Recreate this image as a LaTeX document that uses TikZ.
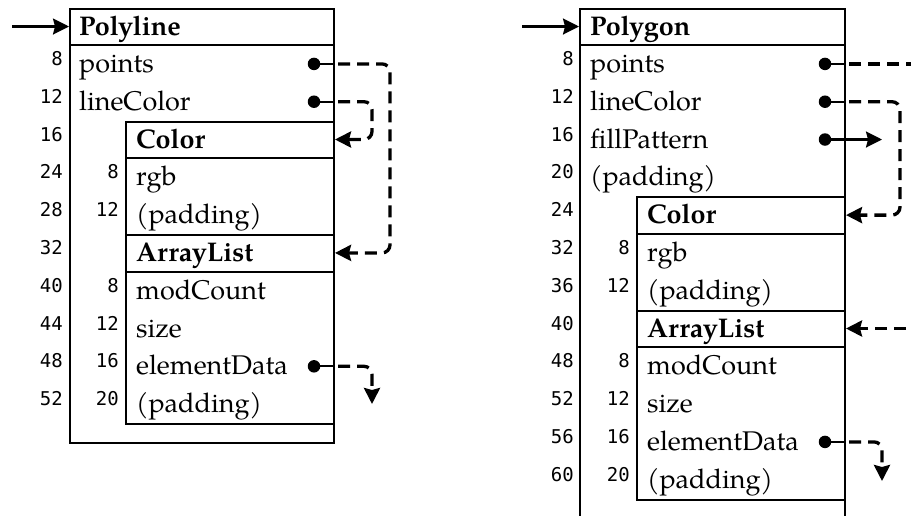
\documentclass[tikz,border=0pt]{standalone}
\usepackage{fontspec}
\setmainfont{TeX Gyre Pagella}
\newfontfamily\offsetfont{DejaVu Sans Mono}
\usetikzlibrary{arrows.meta}

\tikzset{
  frame/.style={draw, line width=2pt, inner sep=0pt, anchor=north west},
  rule/.style={line width=2pt},
  fieldtext/.style={anchor=base west, inner sep=0pt, font=\fontsize{27}{30}\selectfont},
  headtext/.style={anchor=base west, inner sep=0pt, font=\fontsize{27}{30}\selectfont\bfseries},
  offset/.style={anchor=base east, inner sep=0pt, font=\fontsize{19}{22}\offsetfont},
  refdot/.style={circle, fill, inner sep=0pt, minimum size=12.5pt},
  stub/.style={line width=2.2pt},
  ref/.style={line width=3.3pt, dash pattern=on 12pt off 7pt, rounded corners=8pt, shorten <=3pt},
  tip/.style={-{Stealth[length=16pt,width=16pt,inset=2pt]}},
}

\begin{document}
\begin{tikzpicture}[x=1pt,y=-1pt]
\path[use as bounding box] (0,0) rectangle (911,515);
\clip (0,0) rectangle (911,515);

% ---------------- Polyline ----------------
\node[frame, minimum width=264pt, minimum height=434pt] (lbox) at (69,8) {};
\draw[rule] (69,45) -- (333,45);
\node[frame, minimum width=208pt, minimum height=113.4pt] (lcol) at (125,120.6) {};
\draw[rule] (125,158.4) -- (333,158.4);
\node[frame, minimum width=208pt, minimum height=189pt] (larr) at (125,234) {};
\draw[rule] (125,271.8) -- (333,271.8);

\coordinate (Lh) at (0,26.5);
\foreach \k in {0,...,9} \coordinate (L\k) at (0,{45+(\k+0.5)*37.8});

\node[headtext] (lhd) at (79,35.5) {Polyline};
\foreach \k/\txt in {0/points,1/lineColor}
  \node[fieldtext] (lf\k) at (79,{45+\k*37.8+27.5}) {\txt};
\foreach \k/\txt in {3/rgb,4/(padding),6/modCount,7/size,8/elementData,9/(padding)}
  \node[fieldtext] (lf\k) at (136,{45+\k*37.8+27.5}) {\txt};
\foreach \k/\txt in {2/Color,5/ArrayList}
  \node[headtext] (lf\k) at (136,{45+\k*37.8+27.5}) {\txt};

\foreach \k/\n in {0/8,1/12,2/16,3/24,4/28,5/32,6/40,7/44,8/48,9/52}
  \node[offset] (lo\k) at (63,{45+\k*37.8+20.5}) {\n};
\foreach \k/\n in {3/8,4/12,6/8,7/12,8/16,9/20}
  \node[offset] (li\k) at (119,{45+\k*37.8+20.5}) {\n};

% references of Polyline
\coordinate (lin) at (12,0);
\draw[stub, tip] (lin |- Lh) -- (lbox.west |- Lh);

\node[refdot] (lpd) at (314,0 |- L0) {};
\node[refdot] (lcd) at (314,0 |- L1) {};
\node[refdot] (led) at (314,0 |- L8) {};
\coordinate (lpx) at (390,0);
\coordinate (lcx) at (372,0);
\coordinate (lex) at (372,404);

\draw[stub] (lpd.center) -- (lbox.east |- L0);
\draw[ref, tip] (lbox.east |- L0) -- (lpx |- L0) -- (lpx |- L5) -- (larr.east |- L5);
\draw[stub] (lcd.center) -- (lbox.east |- L1);
\draw[ref, tip] (lbox.east |- L1) -- (lcx |- L1) -- (lcx |- L2) -- (lcol.east |- L2);
\draw[stub] (led.center) -- (larr.east |- L8);
\draw[ref, tip] (larr.east |- L8) -- (lex |- L8) -- (lex);

% ---------------- Polygon ----------------
\node[frame, minimum width=265pt, minimum height=512pt] (rbox) at (579,8) {};
\draw[rule] (579,45) -- (844,45);
\node[frame, minimum width=208pt, minimum height=113.4pt] (rcol) at (636,196.2) {};
\draw[rule] (636,234) -- (844,234);
\node[frame, minimum width=208pt, minimum height=189pt] (rarr) at (636,309.6) {};
\draw[rule] (636,347.4) -- (844,347.4);

\coordinate (Rh) at (0,26.5);
\foreach \k in {0,...,11} \coordinate (R\k) at (0,{45+(\k+0.5)*37.8});

\node[headtext] (rhd) at (590,35.5) {Polygon};
\foreach \k/\txt in {0/points,1/lineColor,2/fillPattern,3/(padding)}
  \node[fieldtext] (rf\k) at (590,{45+\k*37.8+27.5}) {\txt};
\foreach \k/\txt in {5/rgb,6/(padding),8/modCount,9/size,10/elementData,11/(padding)}
  \node[fieldtext] (rf\k) at (647,{45+\k*37.8+27.5}) {\txt};
\foreach \k/\txt in {4/Color,7/ArrayList}
  \node[headtext] (rf\k) at (647,{45+\k*37.8+27.5}) {\txt};

\foreach \k/\n in {0/8,1/12,2/16,3/20,4/24,5/32,6/36,7/40,8/48,9/52,10/56,11/60}
  \node[offset] (ro\k) at (574,{45+\k*37.8+20.5}) {\n};
\foreach \k/\n in {5/8,6/12,8/8,9/12,10/16,11/20}
  \node[offset] (ri\k) at (630,{45+\k*37.8+20.5}) {\n};

% references of Polygon
\coordinate (rin) at (522,0);
\draw[stub, tip] (rin |- Rh) -- (rbox.west |- Rh);

\node[refdot] (rpd) at (825,0 |- R0) {};
\node[refdot] (rcd) at (825,0 |- R1) {};
\node[refdot] (rfd) at (825,0 |- R2) {};
\node[refdot] (red) at (825,0 |- R10) {};
\coordinate (rout) at (925,0);
\coordinate (rcx) at (900,0);
\coordinate (rfx) at (882,0);
\coordinate (rex) at (882,481);

\draw[stub] (rpd.center) -- (rbox.east |- R0);
\draw[ref] (rbox.east |- R0) -- (rout |- R0);
\draw[stub] (rcd.center) -- (rbox.east |- R1);
\draw[ref, tip] (rbox.east |- R1) -- (rcx |- R1) -- (rcx |- R4) -- (rcol.east |- R4);
\draw[stub, tip] (rfd.center) -- (rfx |- R2);
\draw[ref, tip, shorten <=0pt] (rout |- R7) -- (rarr.east |- R7);
\draw[stub] (red.center) -- (rarr.east |- R10);
\draw[ref, tip] (rarr.east |- R10) -- (rex |- R10) -- (rex);
\end{tikzpicture}
\end{document}
